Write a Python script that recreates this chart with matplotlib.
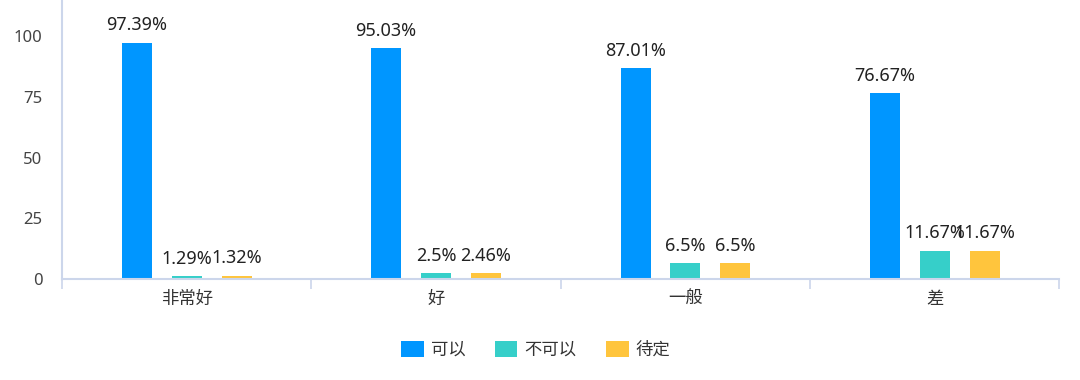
import numpy as np
import matplotlib
matplotlib.use('Agg')
import matplotlib.pyplot as plt

plt.rcParams['font.family'] = ['Noto Sans CJK SC', 'DejaVu Sans']

categories = ['非常好', '好', '一般', '差']
series_names = ['可以', '不可以', '待定']
ok_vals = [97.39, 95.03, 87.01, 76.67]
no_vals = [1.29, 2.5, 6.5, 11.67]
tbd_vals = [1.32, 2.46, 6.5, 11.67]
colors = ['#0096ff', '#36cfc9', '#ffc53d']
yticks = [0, 25, 50, 75, 100]

num_font = ['Noto Sans', 'Noto Sans CJK SC']

fig = plt.figure(figsize=(10.8, 3.8), dpi=100)
ax = fig.add_axes([0.0574, 0.2658, 0.9236, 0.7342])

x = np.arange(len(categories))
offsets = [-0.2, 0.0, 0.2]
for vals, name, color, off in zip([ok_vals, no_vals, tbd_vals], series_names, colors, offsets):
    bars = ax.bar(x + off, vals, width=0.12, color=color, label=name)
    ax.bar_label(bars, fmt='%g%%', padding=6, fontsize=13, color='#222222', family=num_font)

ax.set_xlim(-0.5, len(categories) - 0.5)
ax.set_ylim(0, 115)
ax.set_yticks(yticks)
ax.set_yticklabels([str(t) for t in yticks], family=num_font)
ax.tick_params(axis='y', length=0, labelsize=12, labelcolor='#444444', pad=14)

# category boundaries as tick marks, labels at centres
ax.set_xticks(np.arange(len(categories) + 1) - 0.5)
ax.set_xticklabels([])
ax.tick_params(axis='x', which='major', length=7, color='#ccd6eb', width=1.2)
ax.set_xticks(x, minor=True)
ax.set_xticklabels(categories, minor=True)
ax.tick_params(axis='x', which='minor', length=0, labelsize=12.5, labelcolor='#333333', pad=8)

for side in ['top', 'right']:
    ax.spines[side].set_visible(False)
for side in ['left', 'bottom']:
    ax.spines[side].set_color('#ccd6eb')
    ax.spines[side].set_linewidth(1.5)

fig.legend(loc='center', bbox_to_anchor=(0.496, 0.079), ncol=3, frameon=False,
           fontsize=12.5, handlelength=1.3, handleheight=1.0, columnspacing=1.7,
           handletextpad=0.4, labelcolor='#333333')

fig.savefig('out.png', dpi=100)
